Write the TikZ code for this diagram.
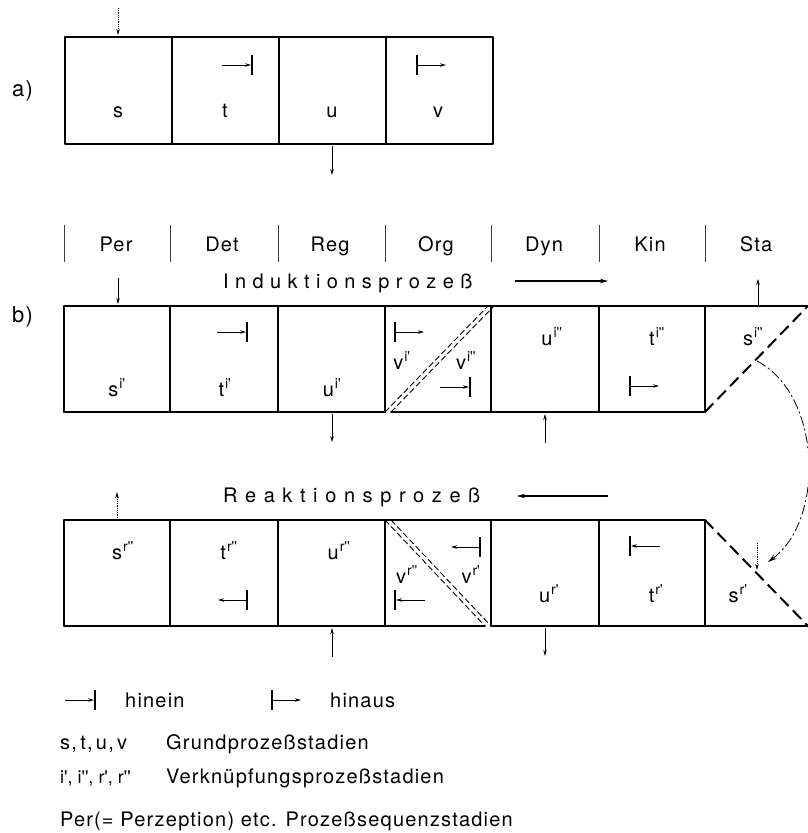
\documentclass[tikz,border=0pt]{standalone}
\usepackage{fontspec}
\setmainfont[LetterSpace=6]{TeX Gyre Heros}
\newfontfamily\indfont[LetterSpace=32]{TeX Gyre Heros}
\newfontfamily\reafont[LetterSpace=38]{TeX Gyre Heros}
\usetikzlibrary{arrows.meta}
\newcommand\ap{\textquotesingle}
\newcommand\app{\textquotesingle\textquotesingle}
\newcommand\lab[2]{#1\textsuperscript{\kern1pt #2}}
\begin{document}
\begin{tikzpicture}[x=1pt,y=-1pt,
  lbl/.style={font=\fontsize{20}{24}\selectfont, inner sep=0pt, anchor=base},
  lft/.style={font=\fontsize{20}{24}\selectfont, inner sep=0pt, anchor=base west},
  boxline/.style={line width=1.9pt, line cap=round, line join=round},
  tickline/.style={line width=0.7pt, black!75},
  sig/.style={line width=0.8pt, -{Stealth[length=6pt,width=3.5pt]}},
  dsig/.style={sig, densely dotted},
  heavydash/.style={line width=2pt, dash pattern=on 12pt off 6pt},
  twin/.style={line width=0.9pt, dash pattern=on 6pt off 3pt},
  arcline/.style={line width=0.8pt, dash pattern=on 10pt off 3pt on 2pt off 3pt, -{Stealth[length=9pt,width=5pt]}},
  procarrow/.style={line width=1.2pt, -{Stealth[length=8pt,width=4.5pt]}},
  inR/.pic={\draw[line width=0.9pt,-{Stealth[length=6pt,width=3.5pt]}] (-30,0) -- (-1,0); \draw[line width=1.7pt] (0,-10) -- (0,10);},
  outR/.pic={\draw[line width=1.7pt] (0,-10) -- (0,10); \draw[line width=0.9pt,-{Stealth[length=6pt,width=3.5pt]}] (0,0) -- (29,0);},
]
\useasboundingbox (0,0) rectangle (808,833);

% ---------------- a) ----------------
\node[lft, font=\fontsize{22}{26}\selectfont] (la) at (12,96) {a)};
\draw[boxline] (65,37) rectangle (493,144);
\foreach \x in {172,279,386} \draw[boxline] (\x,37) -- (\x,144);
\node[lbl] (as) at (118,117) {s};
\node[lbl] (at) at (225,117) {t};
\node[lbl] (au) at (332,117) {u};
\node[lbl] (av) at (438,117) {v};
\pic at (252,65) {inR};
\pic at (417,65) {outR};
\coordinate (aIn0) at (118,8);  \coordinate (aIn1) at (118,35);
\coordinate (aOut0) at (332,146); \coordinate (aOut1) at (332,175);
\draw[dsig] (aIn0) -- (aIn1);
\draw[sig] (aOut0) -- (aOut1);

% ---------------- b) header ----------------
\node[lft, font=\fontsize{22}{26}\selectfont] (lb) at (12,322) {b)};
\foreach \x in {64,170,278,385,491,599,705} \draw[tickline] (\x,225) -- (\x,262);
\node[lbl] (hPer) at (116,251) {Per};
\node[lbl] (hDet) at (222,251) {Det};
\node[lbl] (hReg) at (330,251) {Reg};
\node[lbl] (hOrg) at (436,251) {Org};
\node[lbl] (hDyn) at (544,251) {Dyn};
\node[lbl] (hKin) at (650,251) {Kin};
\node[lbl] (hSta) at (756,251) {Sta};

\node[lft, font=\fontsize{20}{24}\indfont] (tInd) at (223,288) {Induktionsprozeß};
\coordinate (pI0) at (515,281); \coordinate (pI1) at (608,281);
\draw[procarrow] (pI0) -- (pI1);

% ---------------- upper box ----------------
\draw[boxline] (64,412) -- (64,306) -- (808,306);
\draw[boxline] (64,412) -- (385,412);
\draw[boxline] (391,412) -- (705,412);
\foreach \x in {170,278,385,491,599,705} \draw[boxline] (\x,306) -- (\x,412);
\draw[twin] (385,412) -- (488,306);
\draw[twin] (391,412) -- (494,306);
\draw[heavydash] (705,412) -- (808,306);

\node[lbl] (si1) at (117,396) {\lab{s}{i\ap}};
\node[lbl] (ti1) at (225,396) {\lab{t}{i\ap}};
\node[lbl] (ui1) at (332,396) {\lab{u}{i\ap}};
\node[lbl] (vi1) at (402,369) {\lab{v}{i\ap}};
\node[lbl] (vi2) at (466,369) {\lab{v}{i\app}};
\node[lbl] (ui2) at (552,345) {\lab{u}{i\app}};
\node[lbl] (ti2) at (657,345) {\lab{t}{i\app}};
\node[lbl] (si2) at (753,345) {\lab{s}{i\app}};

\pic at (247,332) {inR};
\pic at (395,332) {outR};
\pic at (470,387) {inR};
\pic at (630,386) {outR};

\coordinate (bIn0) at (118,278); \coordinate (bIn1) at (118,304);
\coordinate (bOut0) at (332,414); \coordinate (bOut1) at (332,442);
\coordinate (bDyn0) at (545,443); \coordinate (bDyn1) at (545,414);
\coordinate (bSta0) at (758,305); \coordinate (bSta1) at (758,279);
\draw[sig] (bIn0) -- (bIn1);
\draw[sig] (bOut0) -- (bOut1);
\draw[sig] (bDyn0) -- (bDyn1);
\draw[sig] (bSta0) -- (bSta1);

% dash-dot transfer arc
\coordinate (arcS) at (757,361);
\coordinate (arcE) at (768,562);
\draw[arcline] (arcS) .. controls (822,395) and (825,520) .. (arcE);

% ---------------- lower box ----------------
\node[lft, font=\fontsize{20}{24}\reafont] (tRea) at (223,502) {Reaktionsprozeß};
\coordinate (pR0) at (608,496); \coordinate (pR1) at (517,496);
\draw[procarrow] (pR0) -- (pR1);

\draw[boxline] (705,520) -- (64,520) -- (64,626) -- (485,626);
\draw[boxline] (491,626) -- (808,626);
\foreach \x in {170,278,385,491,599,705} \draw[boxline] (\x,520) -- (\x,626);
\draw[twin] (385,520) -- (485,626);
\draw[twin] (391,520) -- (491,626);
\draw[heavydash] (705,520) -- (808,626);

\node[lbl] (sr2) at (123,559) {\lab{s}{r\app}};
\node[lbl] (tr2) at (229,559) {\lab{t}{r\app}};
\node[lbl] (ur2) at (339,559) {\lab{u}{r\app}};
\node[lbl] (vr2) at (407,583) {\lab{v}{r\app}};
\node[lbl] (vr1) at (471,583) {\lab{v}{r\ap}};
\node[lbl] (ur1) at (549,602) {\lab{u}{r\ap}};
\node[lbl] (tr1) at (656,602) {\lab{t}{r\ap}};
\node[lbl] (sr1) at (738,602) {\lab{s}{r\ap}};

\pic[xscale=-1] at (247,600) {outR};
\pic[xscale=-1] at (480,547) {outR};
\pic[xscale=-1] at (395,600) {inR};
\pic[xscale=-1] at (630,546) {inR};

\coordinate (cPer0) at (117,518); \coordinate (cPer1) at (117,492);
\coordinate (cReg0) at (332,657); \coordinate (cReg1) at (332,628);
\coordinate (cDyn0) at (545,628); \coordinate (cDyn1) at (545,656);
\coordinate (cSta0) at (757,543); \coordinate (cSta1) at (757,570);
\draw[dsig] (cPer0) -- (cPer1);
\draw[sig] (cReg0) -- (cReg1);
\draw[sig] (cDyn0) -- (cDyn1);
\draw[dsig] (cSta0) -- (cSta1);

% ---------------- legend ----------------
\pic at (95,700) {inR};
\node[lft] (gIn) at (125,707) {hinein};
\pic at (272,700) {outR};
\node[lft] (gOut) at (330,707) {hinaus};
\node[lft] (gS) at (60,749) {s,\,t,\,u,\,v};
\node[lft] (gSt) at (166,749) {Grundprozeßstadien};
\node[lft, font=\fontsize{18}{22}\selectfont] (gI) at (60,783) {i\ap,\;i\app,\;r\ap,\;r\app};
\node[lft] (gVt) at (166,783) {Verknüpfungsprozeßstadien};
\node[lft] (gP) at (60,826) {Per\kern1pt(= Perzeption) etc. Prozeßsequenzstadien};
\end{tikzpicture}
\end{document}
